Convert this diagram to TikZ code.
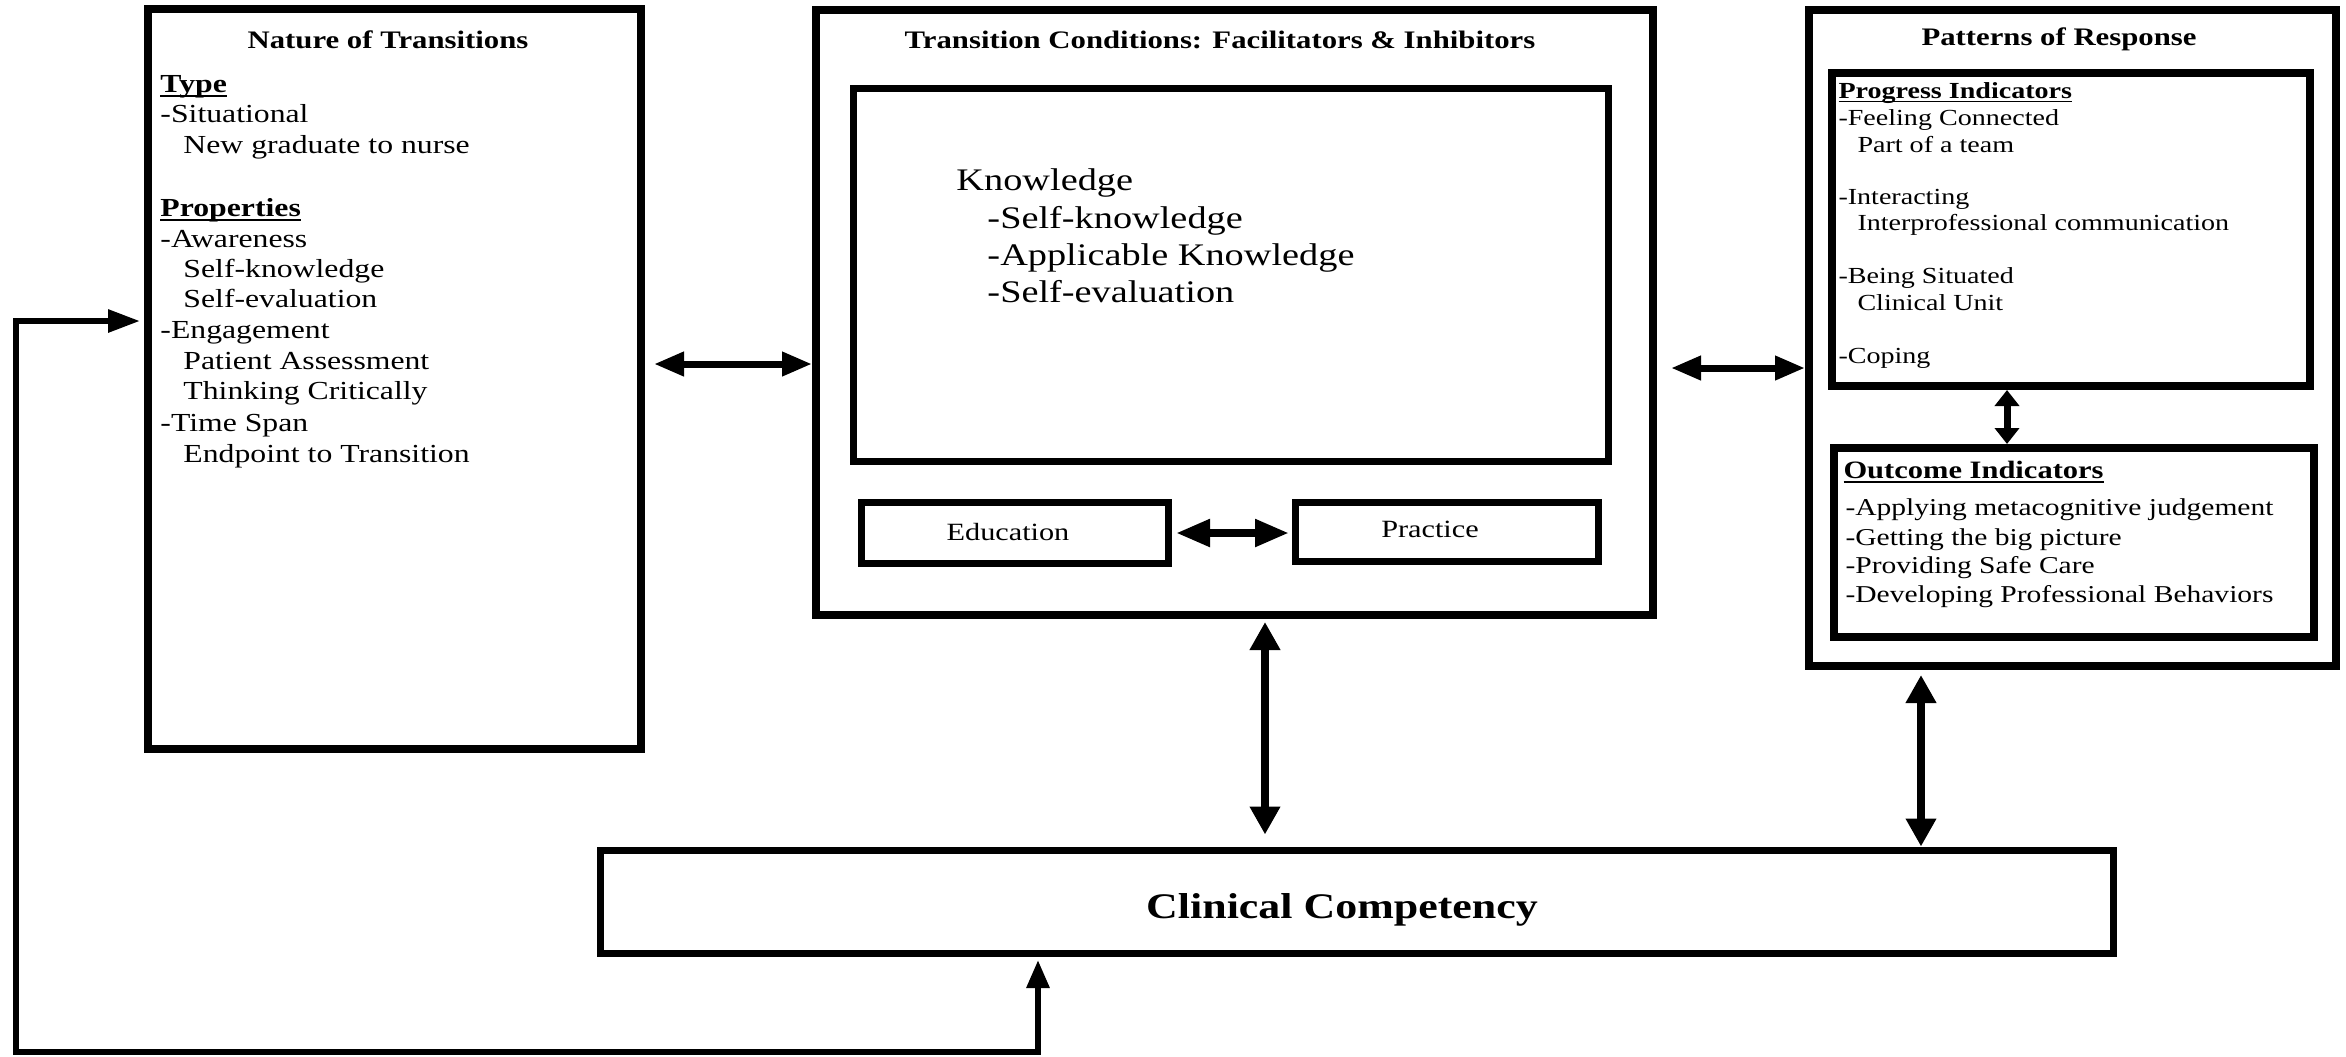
\documentclass[tikz,border=0pt]{standalone}
\usepackage{fontspec}
\setmainfont{Liberation Serif}
\usetikzlibrary{arrows.meta}
\newcommand\myul[1]{\setbox0\hbox{#1}\rlap{\rule[-0.19em]{\wd0}{0.08em}}\box0}
\begin{document}
\begin{tikzpicture}[x=0.5pt,y=-0.5pt,
  obox/.style={draw, line width=4pt, inner sep=0pt},
  ibox/.style={draw, line width=3.5pt, inner sep=0pt},
  txt/.style={inner sep=0pt, anchor=base west, xscale=1.22},
  ctxt/.style={inner sep=0pt, anchor=base, xscale=1.22},
  tfont/.style={font={\fontsize{12.6pt}{15pt}\selectfont\bfseries}},
  lt/.style={txt, font={\fontsize{13pt}{15pt}\selectfont}},
  kt/.style={txt, font={\fontsize{15.7pt}{18pt}\selectfont}},
  efont/.style={font={\fontsize{12.4pt}{15pt}\selectfont}},
  pt/.style={txt, font={\fontsize{11.5pt}{14pt}\selectfont}},
  ot/.style={txt, font={\fontsize{12.1pt}{14pt}\selectfont}},
  harr/.style={{Triangle[length=15pt,width=11.5pt]}-{Triangle[length=15pt,width=11.5pt]}, line width=3.5pt},
  eparr/.style={{Triangle[length=17pt,width=13pt]}-{Triangle[length=17pt,width=13pt]}, line width=4pt},
  sarr/.style={{Triangle[length=8pt,width=12pt]}-{Triangle[length=8pt,width=12pt]}, line width=3.5pt},
  varr/.style={{Triangle[length=14pt,width=14.5pt]}-{Triangle[length=14pt,width=14.5pt]}, line width=4pt},
  farr/.style={{Triangle[length=16pt,width=11pt]}-{Triangle[length=14pt,width=11pt]}, line width=3pt}
]
\fill[white] (0,0) rectangle (2346,1056);
\useasboundingbox (0,0) rectangle (2346,1056);

% boxes
\node[obox, minimum width=246.5pt, minimum height=370pt] (L) at (394.5,379) {};
\node[obox, minimum width=418.5pt, minimum height=302.5pt] (M) at (1234.5,312.5) {};
\node[ibox, minimum width=377.5pt, minimum height=186.5pt] (K) at (1230.5,274.5) {};
\node[ibox, minimum width=153.5pt, minimum height=30.5pt] (E) at (1014.5,532.5) {};
\node[ibox, minimum width=151.5pt, minimum height=29.5pt] (P) at (1446.5,531.5) {};
\node[obox, minimum width=263.5pt, minimum height=328pt] (R) at (2072.5,338) {};
\node[obox, minimum width=239pt, minimum height=156.5pt] (PI) at (2071,229.5) {};
\node[obox, minimum width=240pt, minimum height=94.5pt] (OI) at (2074,542.5) {};
\node[ibox, minimum width=756.5pt, minimum height=51.5pt] (C) at (1356.5,901.5) {};

% left box text
\node[ctxt, tfont] (tL) at (388,48) {Nature of Transitions};
\node[lt] (l1) at (160,92) {\textbf{\myul{Type}}};
\node[lt] (l2) at (160,122) {-Situational};
\node[lt] (l3) at (183,153) {New graduate to nurse};
\node[lt] (l4) at (160,216) {\textbf{\myul{Properties}}};
\node[lt] (l5) at (160,247) {-Awareness};
\node[lt] (l6) at (183,277) {Self-knowledge};
\node[lt] (l7) at (183,307) {Self-evaluation};
\node[lt] (l8) at (160,338) {-Engagement};
\node[lt] (l9) at (183,369) {Patient Assessment};
\node[lt] (l10) at (183,399) {Thinking Critically};
\node[lt] (l11) at (160,431) {-Time Span};
\node[lt] (l12) at (183,462) {Endpoint to Transition};

% middle box text
\node[ctxt, tfont] (tM) at (1220,48) {Transition Conditions: Facilitators \& Inhibitors};
\node[kt] (k1) at (956,190) {Knowledge};
\node[kt] (k2) at (987,228) {-Self-knowledge};
\node[kt] (k3) at (987,265) {-Applicable Knowledge};
\node[kt] (k4) at (987,302) {-Self-evaluation};
\node[ctxt, efont] (tE) at (1008,540) {Education};
\node[ctxt, efont] (tP) at (1430,537) {Practice};

% right box text
\node[ctxt, tfont] (tR) at (2059,45) {Patterns of Response};
\node[pt] (p0) at (1838,98) {\textbf{\myul{Progress Indicators}}};
\node[pt] (p1) at (1838,125) {-Feeling Connected};
\node[pt] (p2) at (1857,152) {Part of a team};
\node[pt] (p3) at (1838,204) {-Interacting};
\node[pt] (p4) at (1857,230) {Interprofessional communication};
\node[pt] (p5) at (1838,283) {-Being Situated};
\node[pt] (p6) at (1857,310) {Clinical Unit};
\node[pt] (p7) at (1838,363) {-Coping};
\node[ot, font={\fontsize{12.5pt}{14pt}\selectfont\bfseries}] (o0) at (1843,478) {\myul{Outcome Indicators}};
\node[ot] (o1) at (1845,515) {-Applying metacognitive judgement};
\node[ot] (o2) at (1845,545) {-Getting the big picture};
\node[ot] (o3) at (1845,573) {-Providing Safe Care};
\node[ot] (o4) at (1845,602) {-Developing Professional Behaviors};

% clinical
\node[ctxt, font={\fontsize{18pt}{20pt}\selectfont\bfseries}] (tC) at (1342,918) {Clinical Competency};

% connectors
\coordinate (y1) at (0,364);
\coordinate (y2) at (0,368);
\coordinate (y3) at (0,533);
\coordinate (xa) at (2007,0);
\coordinate (xb) at (1265,0);
\coordinate (xc) at (1921,0);
\coordinate (f1) at (1038,1052);
\coordinate (f2) at (16,1052);
\coordinate (f3) at (16,321);

\draw[harr, shorten <=4.5pt] (L.east |- y1) -- (M.west |- y1);
\draw[harr, shorten <=7pt] (M.east |- y2) -- (R.west |- y2);
\draw[eparr, shorten <=2.25pt, shorten >=1.25pt] (E.east |- y3) -- (P.west |- y3);
\draw[sarr] (PI.south -| xa) -- (OI.north -| xa);
\draw[varr, shorten <=1.5pt, shorten >=6pt] (M.south -| xb) -- (C.north -| xb);
\draw[varr, shorten <=2.5pt] (R.south -| xc) -- (C.north -| xc);
\draw[farr, shorten <=2pt, shorten >=1.75pt] (L.west |- f3) -- (f3) -- (f2) -- (f1) -- (C.south -| f1);
\end{tikzpicture}
\end{document}
